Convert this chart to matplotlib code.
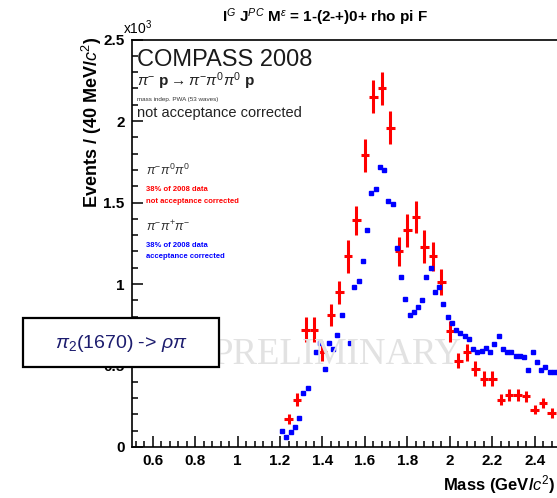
import numpy as np
import matplotlib
matplotlib.use('Agg')
import matplotlib.pyplot as plt
from matplotlib.ticker import MultipleLocator, FormatStrFormatter
from matplotlib.patches import Rectangle

plt.rcParams['font.family'] = ['Liberation Sans', 'DejaVu Sans']
plt.rcParams['mathtext.fontset'] = 'custom'
plt.rcParams['mathtext.rm'] = 'Liberation Sans'
plt.rcParams['mathtext.it'] = 'Liberation Sans:italic'
plt.rcParams['mathtext.bf'] = 'Liberation Sans:bold'

# pi- pi0 pi0, not acceptance corrected (40 MeV bins), units of 10^3 events
red_x = [1.24, 1.28, 1.32, 1.36, 1.40, 1.44, 1.48, 1.52, 1.56, 1.60, 1.64, 1.68,
         1.72, 1.76, 1.80, 1.84, 1.88, 1.92, 1.96, 2.00, 2.04, 2.08, 2.12, 2.16,
         2.20, 2.24, 2.28, 2.32, 2.36, 2.40, 2.44, 2.48]
red_y = [0.17, 0.29, 0.72, 0.72, 0.58, 0.81, 0.95, 1.17, 1.39, 1.79, 2.15, 2.20,
         1.96, 1.20, 1.33, 1.41, 1.23, 1.17, 1.01, 0.71, 0.53, 0.58, 0.48, 0.42,
         0.42, 0.29, 0.32, 0.32, 0.31, 0.23, 0.27, 0.21]
red_err = [0.03, 0.04, 0.075, 0.075, 0.055, 0.07, 0.07, 0.10, 0.09, 0.10, 0.10, 0.10,
           0.10, 0.09, 0.10, 0.10, 0.10, 0.09, 0.08, 0.065, 0.045, 0.05, 0.045, 0.045,
           0.045, 0.035, 0.035, 0.035, 0.035, 0.03, 0.03, 0.03]

# pi- pi+ pi-, acceptance corrected (20 MeV bins)
blue_x = [1.21, 1.23, 1.25, 1.27, 1.29, 1.31, 1.33, 1.37, 1.39, 1.41, 1.43, 1.45,
          1.47, 1.49, 1.53, 1.55, 1.57, 1.59, 1.61, 1.63, 1.65, 1.67, 1.69, 1.71,
          1.73, 1.75, 1.77, 1.79, 1.81, 1.83, 1.85, 1.87, 1.89, 1.91, 1.93, 1.95,
          1.97, 1.99, 2.01, 2.03, 2.05, 2.07, 2.09, 2.11, 2.13, 2.15, 2.17, 2.19,
          2.21, 2.23, 2.25, 2.27, 2.29, 2.31, 2.33, 2.35, 2.37, 2.39, 2.41, 2.43,
          2.45, 2.47, 2.49, 2.51]
blue_y = [0.10, 0.06, 0.09, 0.12, 0.18, 0.33, 0.36, 0.58, 0.64, 0.48, 0.64, 0.60,
          0.69, 0.81, 0.64, 0.98, 1.02, 1.14, 1.33, 1.56, 1.58, 1.72, 1.70, 1.51,
          1.49, 1.22, 1.04, 0.91, 0.81, 0.83, 0.86, 0.90, 1.04, 1.10, 0.95, 0.98,
          0.88, 0.80, 0.76, 0.72, 0.70, 0.68, 0.66, 0.60, 0.58, 0.59, 0.61, 0.58,
          0.63, 0.68, 0.60, 0.58, 0.58, 0.56, 0.56, 0.55, 0.47, 0.58, 0.52, 0.47,
          0.49, 0.46, 0.46, 0.46]

W, H = 557, 498
fig = plt.figure(figsize=(W/100, H/100), dpi=100)
ax = fig.add_axes([131.5/W, 1-447/H, (W-131.5)/W, (447-39.5)/H])

def fx(px):
    return px/W

def fy(py):
    return 1-py/H

fig.text(fx(213), fy(355), 'PRELIMINARY', family=['Liberation Serif', 'DejaVu Serif'],
         fontsize=26.5, color='#e2e2e2', va='center', ha='left', zorder=0)

ax.errorbar(red_x, red_y, yerr=red_err, xerr=0.02, fmt='none', ecolor='red',
            elinewidth=2.2, capsize=0, zorder=3)
ax.plot(blue_x, blue_y, 's', ms=2.6, color='blue', mec='blue', zorder=4)

ax.set_xlim(0.5, 2.505)
ax.set_ylim(0, 2.5)
ax.patch.set_alpha(0)
ax.spines['right'].set_visible(False)
for s in ['left', 'bottom', 'top']:
    ax.spines[s].set_linewidth(1.2)
ax.xaxis.set_major_locator(MultipleLocator(0.2))
ax.xaxis.set_minor_locator(MultipleLocator(0.04))
ax.yaxis.set_major_locator(MultipleLocator(0.5))
ax.yaxis.set_minor_locator(MultipleLocator(0.1))
ax.xaxis.set_major_formatter(FormatStrFormatter('%g'))
ax.yaxis.set_major_formatter(FormatStrFormatter('%g'))
ax.tick_params(which='major', direction='in', length=8, width=1.1, labelsize=11, pad=5)
ax.tick_params(which='minor', direction='in', length=4, width=1.1)
for lab in ax.get_xticklabels() + ax.get_yticklabels():
    lab.set_fontweight('bold')

fig.text(fx(123), fy(28), r'x10$^{3}$', fontsize=10, va='center', ha='left')
fig.text(fx(325), fy(17), r'I$^{G}$ J$^{PC}$ M$^{\epsilon}$ = 1-(2-+)0+ rho pi F',
         fontsize=11, fontweight='bold', ha='center', va='center')
fig.text(fx(92), fy(37), r'Events / (40 MeV/$c^{2}$)', rotation=90, fontsize=13,
         fontweight='bold', ha='center', va='top')
fig.text(fx(555), fy(485), r'Mass (GeV/$c^{2}$)', fontsize=12, fontweight='bold',
         ha='right', va='center')

fig.text(fx(137), fy(60), 'COMPASS 2008', fontsize=17, color='#1a1a1a', va='center')
fig.text(fx(137), fy(81), r'$\pi^{-}$ p$\rightarrow\pi^{-}\pi^{0}\pi^{0}$ p', fontsize=11,
         fontweight='bold', color='#222222', va='center')
fig.text(fx(137), fy(99), 'mass indep. PWA (53 waves)', fontsize=4.5, color='#333333',
         va='center')
fig.text(fx(137), fy(113), 'not acceptance corrected', fontsize=10.5, color='#222222',
         va='center')
fig.text(fx(146), fy(170), r'$\pi^{-}\pi^{0}\pi^{0}$', fontsize=9, color='#333333', va='center')
fig.text(fx(146), fy(189), '38% of 2008 data', fontsize=5.5, fontweight='bold',
         color='red', va='center')
fig.text(fx(146), fy(201), 'not acceptance corrected', fontsize=5.5, fontweight='bold',
         color='red', va='center')
fig.text(fx(146), fy(227), r'$\pi^{-}\pi^{+}\pi^{-}$', fontsize=9, color='#333333', va='center')
fig.text(fx(146), fy(245), '38% of 2008 data', fontsize=5.5, fontweight='bold',
         color='blue', va='center')
fig.text(fx(146), fy(257), 'acceptance corrected', fontsize=5.5, fontweight='bold',
         color='blue', va='center')

box = Rectangle((fx(23), fy(367)), fx(219)-fx(23), fy(318)-fy(367), transform=fig.transFigure,
                facecolor='white', edgecolor='black', lw=1.6, zorder=10)
fig.add_artist(box)
fig.text(fx(121), fy(343), r'$\pi_{2}$(1670) -> $\rho\pi$', fontsize=14, color='#1c1c6e',
         ha='center', va='center', zorder=11)

fig.savefig('out.png', dpi=100)
